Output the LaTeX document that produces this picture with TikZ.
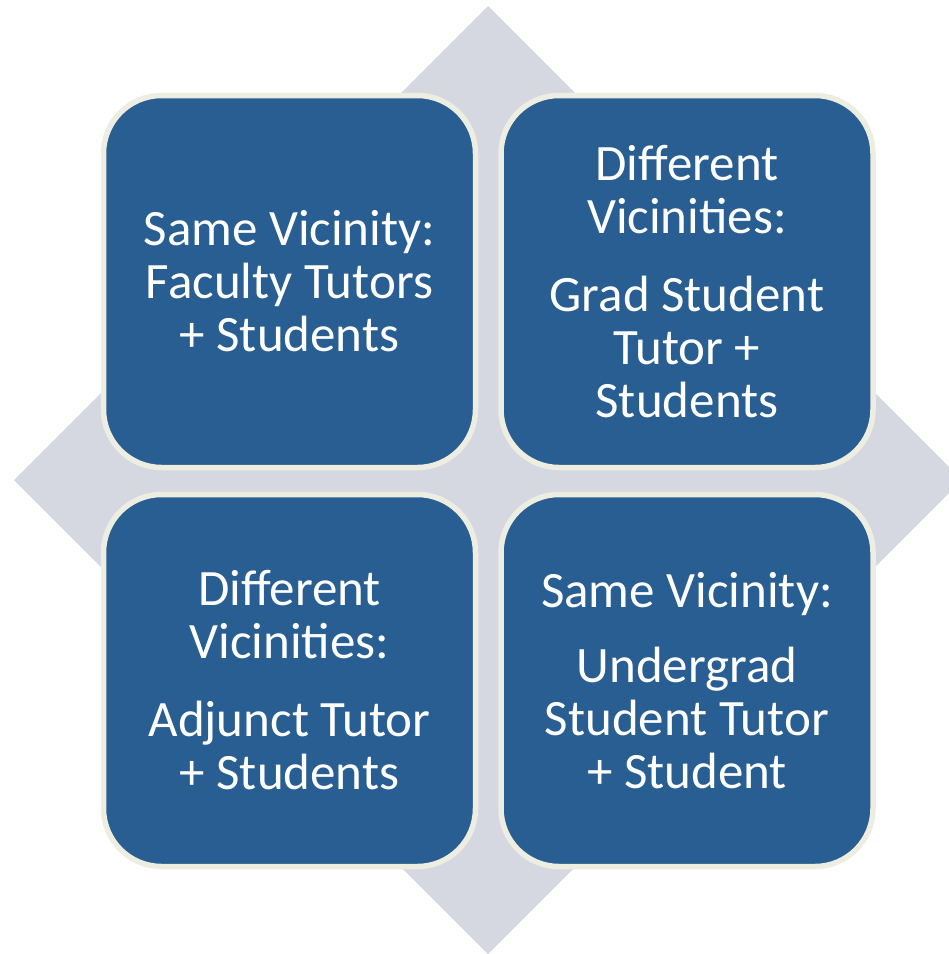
\documentclass[tikz,border=0pt]{standalone}
\usepackage{fontspec}
\setmainfont{Carlito}
\usepackage{tikz}
\definecolor{tileblue}{RGB}{40,94,145}
\definecolor{tileedge}{RGB}{238,237,226}
\definecolor{diamondgray}{RGB}{213,216,224}

\begin{document}
\begin{tikzpicture}[
    x=1pt, y=-1pt,
    tile/.style={draw=tileedge, line width=5.5pt, fill=tileblue,
                 rounded corners=58pt, minimum width=372pt, minimum height=372pt,
                 align=center, text=white, inner sep=0pt,
                 font=\fontsize{51}{53}\selectfont}
  ]
    \useasboundingbox (0,0) rectangle (949,954);
    \fill[diamondgray] (488,6) -- (962,480) -- (488,954) -- (14,480) -- cycle;

    \node[tile] (faculty) at (289.5,281.5) {Same Vicinity:\\Faculty Tutors\\+ Students};
    \node[tile] (grad) at (687,281.5) {Different\\Vicinities:\\[25pt]Grad Student\\Tutor +\\Students};
    \node[tile] (adjunct) at (289.5,680.5) {Different\\Vicinities:\\[25pt]Adjunct Tutor\\+ Students};
    \node[tile] (undergrad) at (687,680.5) {Same Vicinity:\\[22pt]Undergrad\\Student Tutor\\+ Student};
  \end{tikzpicture}
\end{document}
